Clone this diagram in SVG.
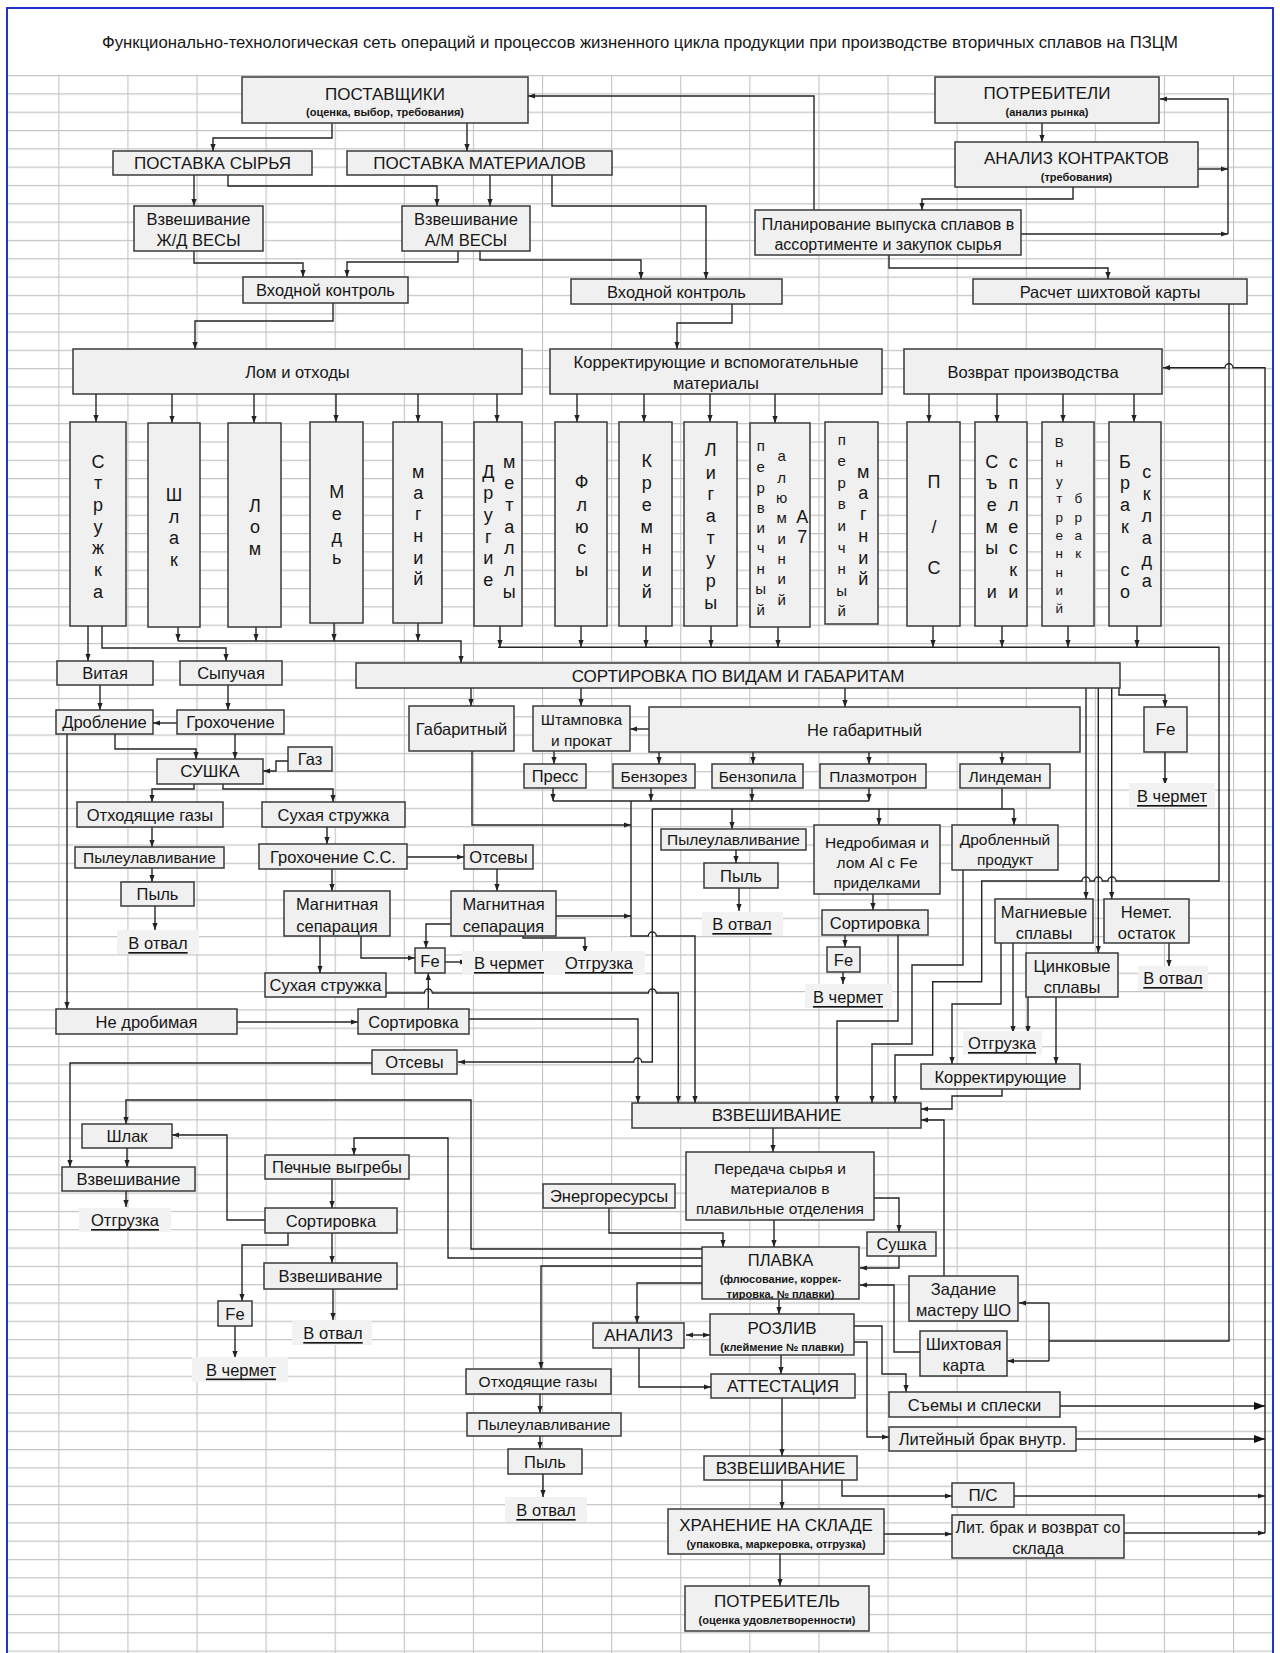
<svg xmlns="http://www.w3.org/2000/svg" width="1280" height="1653" viewBox="0 0 1280 1653">
<defs>
<style>
.b{fill:#f0f0f0;stroke:#3a3a3a;stroke-width:1.5}
.t{font-family:"Liberation Sans",Arial,sans-serif;font-size:16.5px;fill:#161616;text-anchor:middle;dominant-baseline:central}
.L{font-size:17px}
.m{font-size:15.5px}
.s{font-size:11px;font-weight:bold}
.v{font-size:18px}
.v2{font-size:15px}
.v3{font-size:13.5px}
.u{text-decoration:underline}
.bg{fill:#f2f2f2}
.c{fill:none;stroke:#252525;stroke-width:1.4}
.a{marker-end:url(#ar)}
.A{marker-end:url(#big)}
</style>
<marker id="ar" markerUnits="userSpaceOnUse" markerWidth="7" markerHeight="6" refX="7" refY="3" orient="auto" viewBox="0 0 7 6"><path d="M0,0.4 L7,3 L0,5.6z" fill="#222"/></marker>
<marker id="ars" markerUnits="userSpaceOnUse" markerWidth="7" markerHeight="6" refX="7" refY="3" orient="auto-start-reverse" viewBox="0 0 7 6"><path d="M0,0.4 L7,3 L0,5.6z" fill="#222"/></marker>
<marker id="big" markerUnits="userSpaceOnUse" markerWidth="11" markerHeight="9" refX="11" refY="4.5" orient="auto" viewBox="0 0 11 9"><path d="M0,0.5 L11,4.5 L0,8.5z" fill="#111"/></marker>
<pattern id="grid" patternUnits="userSpaceOnUse" x="58.3" y="75" width="69.1" height="18.32">
<path d="M0,0.5H69.1M0.5,0V18.32" fill="none" stroke="#c4c4c4" stroke-width="1.2"/>
</pattern>
</defs>
<rect x="0" y="0" width="1280" height="1653" fill="#ffffff"/>
<rect x="7" y="75" width="1266" height="1578" fill="url(#grid)"/>
<path d="M7,1653V8H1273V1653" fill="none" stroke="#2233cc" stroke-width="2"/>
<text class="t" x="640" y="42" style="font-size:16px" textLength="1076" lengthAdjust="spacingAndGlyphs">Функционально-технологическая сеть операций и процессов жизненного цикла продукции при производстве вторичных сплавов на ПЗЦМ</text>

<g id="connectors">
<path class="c a" d="M332,123V138H213V151"/>
<path class="c a" d="M467,123V151"/>
<path class="c a" d="M194,175V206"/>
<path class="c a" d="M228,175V186H437V206"/>
<path class="c a" d="M490,175V206"/>
<path class="c a" d="M552,175V206H706V279"/>
<path class="c a" d="M194,251V263H303V277"/>
<path class="c a" d="M458,251V262H347V277"/>
<path class="c a" d="M480,251V260H641V279"/>
<path class="c a" d="M333,303V321H195V349"/>
<path class="c a" d="M732,304V323H677V349"/>
<path class="c a" d="M1042,123V142"/>
<path class="c a" d="M1073,187V199H922V210"/>
<path class="c a" d="M1198,169H1228"/>
<path class="c a" d="M1021,234H1228"/>
<path class="c a" d="M1228,234V99H1160"/>
<path class="c a" d="M814,210V96H528"/>
<path class="c a" d="M889,255V268H1108V279"/>
<path class="c" d="M1229,304V1341H1049M1049,1303V1361"/>
<path class="c a" d="M1049,1303H1019"/>
<path class="c a" d="M1049,1361H1007"/>
<path class="c a" d="M1265,1533V367.7H1233a4,4 0 0 0 -8,0H1163"/>
<path class="c a" d="M96,394V422"/>
<path class="c a" d="M172,394V423"/>
<path class="c a" d="M254,394V423"/>
<path class="c a" d="M336,394V422"/>
<path class="c a" d="M418,394V422"/>
<path class="c a" d="M497,394V422"/>
<path class="c a" d="M577,394V422"/>
<path class="c a" d="M644,394V422"/>
<path class="c a" d="M710,394V422"/>
<path class="c a" d="M775,394V423"/>
<path class="c a" d="M929,394V422"/>
<path class="c a" d="M997,394V422"/>
<path class="c a" d="M1063,394V422"/>
<path class="c a" d="M1134,394V422"/>
<path class="c a" d="M88,626V661"/>
<path class="c a" d="M102,626V648H226V661"/>
<path class="c a" d="M178,627V641"/>
<path class="c a" d="M256,627V641"/>
<path class="c a" d="M334,623V641"/>
<path class="c a" d="M418,623V641"/>
<path class="c a" d="M178,641H461V663"/>
<path class="c a" d="M500,626V647"/>
<path class="c a" d="M581,626V647"/>
<path class="c a" d="M646,626V647"/>
<path class="c a" d="M711,626V647"/>
<path class="c a" d="M778,627V647"/>
<path class="c a" d="M933,626V647"/>
<path class="c a" d="M1002,626V647"/>
<path class="c a" d="M1068,626V647"/>
<path class="c a" d="M1137,626V647"/>
<path class="c a" d="M498,647.3H1219V881H1116a4,4 0 0 0 -8,0H1102.3a4,4 0 0 0 -8,0H1090a4,4 0 0 0 -8,0H981.7V981.7H932.7V1055H895V1103"/>
<path class="c a" d="M471,688V706"/>
<path class="c a" d="M581,688V706"/>
<path class="c a" d="M845,688V707"/>
<path class="c a" d="M1119,688V695H1165V707"/>
<path class="c a" d="M1165,752V785"/>
<path class="c a" d="M1086,688V899"/>
<path class="c a" d="M1098.3,688V953"/>
<path class="c a" d="M1111.7,688V899"/>
<path class="c a" d="M100,685V710"/>
<path class="c a" d="M228,685V710"/>
<path class="c a" d="M177,723H153"/>
<path class="c a" d="M115,734V749H196V759"/>
<path class="c a" d="M235,734V759"/>
<path class="c a" d="M288,761H276V771H263"/>
<path class="c a" d="M67,734V1009"/>
<path class="c a" d="M194,784V789H152V802"/>
<path class="c a" d="M223,784V789H333V802"/>
<path class="c a" d="M152,827V847"/>
<path class="c a" d="M152,868V882"/>
<path class="c a" d="M155,906V930"/>
<path class="c a" d="M327,827V844"/>
<path class="c a" d="M407,857H464"/>
<path class="c a" d="M332,869V891"/>
<path class="c a" d="M320,936V973"/>
<path class="c a" d="M361,936V958H415"/>
<path class="c a" d="M497,869V891"/>
<path class="c a" d="M451,924H426V948"/>
<path class="c a" d="M445,962H467"/>
<path class="c a" d="M523,936V938H585V953"/>
<path class="c a" d="M556,916H631"/>
<path class="c a" d="M472,751V825H631"/>
<path class="c a" d="M554,751V764"/>
<path class="c a" d="M649,729H630"/>
<path class="c a" d="M659,752V764"/>
<path class="c a" d="M753,752V764"/>
<path class="c a" d="M869,752V764"/>
<path class="c a" d="M1002,752V764"/>
<path class="c a" d="M553,788V801"/>
<path class="c a" d="M651,788V801"/>
<path class="c a" d="M752,788V801"/>
<path class="c a" d="M869,788V801"/>
<path class="c" d="M553,801H869"/>
<path class="c a" d="M631,801V936H648.3a4,4 0 0 1 8,0H695V1103"/>
<path class="c" d="M1002,788V809M652.3,809H1014"/>
<path class="c a" d="M732,809V829"/>
<path class="c a" d="M879,809V825"/>
<path class="c a" d="M1014,809V825"/>
<path class="c a" d="M652.3,809V1062H641.7a4,4 0 0 0 -8,0H458"/>
<path class="c a" d="M736,850V863"/>
<path class="c a" d="M739,888V911"/>
<path class="c a" d="M873,894V910"/>
<path class="c a" d="M845,935V947"/>
<path class="c a" d="M843,972V984"/>
<path class="c a" d="M898,935V1021H837V1103"/>
<path class="c a" d="M963,870V965H912V1044H872V1103"/>
<path class="c a" d="M1001,943V1004H952V1064"/>
<path class="c a" d="M1013,943V1033"/>
<path class="c a" d="M1028,997V1033"/>
<path class="c a" d="M1056,997V1064"/>
<path class="c a" d="M1169,943V967"/>
<path class="c a" d="M1002,1089V1096H952V1109H921"/>
<path class="c a" d="M944,1276V1120H921"/>
<path class="c a" d="M386,993H424.3a4,4 0 0 1 8,0H648.3a4,4 0 0 1 8,0H678.3V1103"/>
<path class="c a" d="M428.3,1009V973"/>
<path class="c a" d="M237,1022H358"/>
<path class="c a" d="M469,1019H638V1103"/>
<path class="c a" d="M372,1063H70V1167"/>
<path class="c a" d="M773,1128V1152"/>
<path class="c a" d="M874,1198H899V1232"/>
<path class="c a" d="M899,1256V1268H860"/>
<path class="c a" d="M774,1220V1247"/>
<path class="c a" d="M609,1208V1233H723V1247"/>
<path class="c a" d="M702,1249H471V1100H126V1124"/>
<path class="c a" d="M702,1258H448V1138H354V1155"/>
<path class="c a" d="M127,1148V1167"/>
<path class="c a" d="M126,1191V1207"/>
<path class="c a" d="M332,1179V1208"/>
<path class="c a" d="M265,1220H227V1135H172"/>
<path class="c a" d="M288,1233V1245H242V1301"/>
<path class="c a" d="M332,1233V1263"/>
<path class="c a" d="M333,1289V1320"/>
<path class="c a" d="M235,1326V1358"/>
<path class="c a" d="M920,1352H894V1285H860"/>
<path class="c a" d="M702,1266H541V1369"/>
<path class="c a" d="M702,1283H637V1323"/>
<path class="c a" d="M779,1299V1314"/>
<path class="c a" d="M686,1335H710" style="marker-start:url(#ars)"/>
<path class="c a" d="M639,1348V1387H711"/>
<path class="c a" d="M781,1355V1374"/>
<path class="c a" d="M854,1326H882V1374H906V1392"/>
<path class="c a" d="M854,1342H867V1437H889"/>
<path class="c A" d="M1060,1406H1265"/>
<path class="c A" d="M1076,1439H1265"/>
<path class="c a" d="M782,1398V1456"/>
<path class="c a" d="M842,1480V1496H952"/>
<path class="c a" d="M1014,1496H1265"/>
<path class="c a" d="M782,1480V1509"/>
<path class="c a" d="M884,1534H952"/>
<path class="c a" d="M1124,1533H1265"/>
<path class="c a" d="M780,1554V1586"/>
<path class="c a" d="M540,1394V1413"/>
<path class="c a" d="M540,1436V1449"/>
<path class="c a" d="M543,1474V1497"/>
</g>

<g id="n-postavshiki"><rect class="b" x="242" y="77" width="286" height="46"/><text class="t L" x="385" y="94">ПОСТАВЩИКИ</text><text class="t s" x="385" y="112">(оценка, выбор, требования)</text></g>
<g id="n-potrebiteli"><rect class="b" x="935" y="77" width="224" height="46"/><text class="t L" x="1047" y="93">ПОТРЕБИТЕЛИ</text><text class="t s" x="1047" y="112">(анализ рынка)</text></g>
<g id="n-analiz-kontr"><rect class="b" x="955" y="142" width="243" height="45"/><text class="t L" x="1076.5" y="158">АНАЛИЗ КОНТРАКТОВ</text><text class="t s" x="1076.5" y="177">(требования)</text></g>
<g id="n-postavka-syrya"><rect class="b" x="113" y="151" width="199" height="24"/><text class="t L" x="212.5" y="163">ПОСТАВКА СЫРЬЯ</text></g>
<g id="n-postavka-mat"><rect class="b" x="347" y="151" width="265" height="24"/><text class="t L" x="479.5" y="163">ПОСТАВКА МАТЕРИАЛОВ</text></g>
<g id="n-plan"><rect class="b" x="755" y="210" width="266" height="45"/><text class="t" style="font-size:16px" x="888" y="224">Планирование выпуска сплавов в</text><text class="t" style="font-size:16px" x="888" y="244">ассортименте и закупок сырья</text></g>
<g id="n-vzv-zd"><rect class="b" x="134" y="206" width="129" height="45"/><text class="t" x="198.5" y="219">Взвешивание</text><text class="t" x="198.5" y="239.5">Ж/Д ВЕСЫ</text></g>
<g id="n-vzv-am"><rect class="b" x="402" y="206" width="128" height="45"/><text class="t" x="466" y="219">Взвешивание</text><text class="t" x="466" y="239.5">А/М ВЕСЫ</text></g>
<g id="n-vk1"><rect class="b" x="243" y="277" width="165" height="26"/><text class="t" x="325.5" y="290">Входной контроль</text></g>
<g id="n-vk2"><rect class="b" x="571" y="279" width="211" height="25"/><text class="t" x="676.5" y="292">Входной контроль</text></g>
<g id="n-raschet"><rect class="b" x="973" y="279" width="274" height="25"/><text class="t" x="1110" y="291.5">Расчет шихтовой карты</text></g>
<g id="n-lom-otkh"><rect class="b" x="73" y="349" width="449" height="45"/><text class="t" x="297.5" y="371.5">Лом и отходы</text></g>
<g id="n-korr-vsp"><rect class="b" x="550" y="349" width="332" height="45"/><text class="t" x="716" y="362">Корректирующие и вспомогательные</text><text class="t" x="716" y="383">материалы</text></g>
<g id="n-vozvrat"><rect class="b" x="904" y="349" width="258" height="45"/><text class="t" x="1033" y="371.5">Возврат производства</text></g>

<g id="n-struzhka"><rect class="b" x="70" y="422" width="56" height="204"/><text class="t v"><tspan x="98" y="461.7">С</tspan><tspan x="98" y="483.3">т</tspan><tspan x="98" y="505">р</tspan><tspan x="98" y="526.7">у</tspan><tspan x="98" y="548.3">ж</tspan><tspan x="98" y="570">к</tspan><tspan x="98" y="591.7">а</tspan></text></g>
<g id="n-shlak"><rect class="b" x="148" y="423" width="52" height="204"/><text class="t v"><tspan x="174" y="495">Ш</tspan><tspan x="174" y="516.7">л</tspan><tspan x="174" y="538.3">а</tspan><tspan x="174" y="560">к</tspan></text></g>
<g id="n-lom"><rect class="b" x="228" y="423" width="53" height="204"/><text class="t v"><tspan x="255" y="505.7">Л</tspan><tspan x="255" y="527.3">о</tspan><tspan x="255" y="549.3">м</tspan></text></g>
<g id="n-med"><rect class="b" x="310" y="422" width="53" height="201"/><text class="t v"><tspan x="336.7" y="491.7">М</tspan><tspan x="336.7" y="514.3">е</tspan><tspan x="336.7" y="536.7">д</tspan><tspan x="336.7" y="558.3">ь</tspan></text></g>
<g id="n-magniy"><rect class="b" x="393" y="422" width="49" height="201"/><text class="t v"><tspan x="418.3" y="471.7">м</tspan><tspan x="418.3" y="492.7">а</tspan><tspan x="418.3" y="514.3">г</tspan><tspan x="418.3" y="536">н</tspan><tspan x="418.3" y="557.7">и</tspan><tspan x="418.3" y="579">й</tspan></text></g>
<g id="n-drugie"><rect class="b" x="474" y="422" width="48" height="204"/><text class="t v"><tspan x="488.3" y="471.7">Д</tspan><tspan x="488.3" y="493.3">р</tspan><tspan x="488.3" y="515">у</tspan><tspan x="488.3" y="536.7">г</tspan><tspan x="488.3" y="558.3">и</tspan><tspan x="488.3" y="580">е</tspan><tspan x="509.3" y="461.7">м</tspan><tspan x="509.3" y="483.3">е</tspan><tspan x="509.3" y="505">т</tspan><tspan x="509.3" y="526.7">а</tspan><tspan x="509.3" y="548.3">л</tspan><tspan x="509.3" y="570">л</tspan><tspan x="509.3" y="591.7">ы</tspan></text></g>
<g id="n-flyusy"><rect class="b" x="555" y="422" width="52" height="204"/><text class="t v"><tspan x="581.7" y="481.7">Ф</tspan><tspan x="581.7" y="505">л</tspan><tspan x="581.7" y="526.7">ю</tspan><tspan x="581.7" y="548.3">с</tspan><tspan x="581.7" y="570">ы</tspan></text></g>
<g id="n-kremniy"><rect class="b" x="619" y="422" width="53" height="204"/><text class="t v"><tspan x="646.7" y="461">К</tspan><tspan x="646.7" y="482.7">р</tspan><tspan x="646.7" y="505">е</tspan><tspan x="646.7" y="526.7">м</tspan><tspan x="646.7" y="548.3">н</tspan><tspan x="646.7" y="570">и</tspan><tspan x="646.7" y="591.7">й</tspan></text></g>
<g id="n-ligatury"><rect class="b" x="684" y="422" width="53" height="204"/><text class="t v"><tspan x="710.7" y="450">Л</tspan><tspan x="710.7" y="472.7">и</tspan><tspan x="710.7" y="494.3">г</tspan><tspan x="710.7" y="516">а</tspan><tspan x="710.7" y="537.7">т</tspan><tspan x="710.7" y="559.3">у</tspan><tspan x="710.7" y="581">р</tspan><tspan x="710.7" y="602.7">ы</tspan></text></g>
<g id="n-perv-al"><rect class="b" x="750" y="423" width="60" height="204"/><text class="t v2"><tspan x="760.7" y="445">п</tspan><tspan x="760.7" y="466">е</tspan><tspan x="760.7" y="486.7">р</tspan><tspan x="760.7" y="506.7">в</tspan><tspan x="760.7" y="527.3">и</tspan><tspan x="760.7" y="547.3">ч</tspan><tspan x="760.7" y="568.3">н</tspan><tspan x="760.7" y="588.3">ы</tspan><tspan x="760.7" y="609">й</tspan><tspan x="781.7" y="455">а</tspan><tspan x="781.7" y="476.7">л</tspan><tspan x="781.7" y="496.7">ю</tspan><tspan x="781.7" y="517.3">м</tspan><tspan x="781.7" y="537.7">и</tspan><tspan x="781.7" y="558.3">н</tspan><tspan x="781.7" y="578.3">и</tspan><tspan x="781.7" y="599">й</tspan></text><text class="t v"><tspan x="802.3" y="516.7">А</tspan><tspan x="802.3" y="536.7">7</tspan></text></g>
<g id="n-perv-mg"><rect class="b" x="825" y="422" width="53" height="202"/><text class="t v2"><tspan x="841.7" y="439.3">п</tspan><tspan x="841.7" y="460">е</tspan><tspan x="841.7" y="481.7">р</tspan><tspan x="841.7" y="503.3">в</tspan><tspan x="841.7" y="525">и</tspan><tspan x="841.7" y="546.7">ч</tspan><tspan x="841.7" y="568.3">н</tspan><tspan x="841.7" y="590">ы</tspan><tspan x="841.7" y="610">й</tspan></text><text class="t v"><tspan x="863.3" y="471.7">м</tspan><tspan x="863.3" y="492.7">а</tspan><tspan x="863.3" y="514.3">г</tspan><tspan x="863.3" y="536">н</tspan><tspan x="863.3" y="557.7">и</tspan><tspan x="863.3" y="579">й</tspan></text></g>
<g id="n-ps-col"><rect class="b" x="907" y="422" width="53" height="204"/><text class="t v"><tspan x="934" y="481.7">П</tspan><tspan x="934" y="526.7">/</tspan><tspan x="934" y="568.3">С</tspan></text></g>
<g id="n-siemy-col"><rect class="b" x="975" y="422" width="52" height="204"/><text class="t v"><tspan x="991.7" y="461.7">С</tspan><tspan x="991.7" y="483.3">ъ</tspan><tspan x="991.7" y="505">е</tspan><tspan x="991.7" y="526.7">м</tspan><tspan x="991.7" y="548.3">ы</tspan><tspan x="991.7" y="591.7">и</tspan><tspan x="1013.3" y="461.7">с</tspan><tspan x="1013.3" y="483.3">п</tspan><tspan x="1013.3" y="505">л</tspan><tspan x="1013.3" y="526.7">е</tspan><tspan x="1013.3" y="548.3">с</tspan><tspan x="1013.3" y="570">к</tspan><tspan x="1013.3" y="591.7">и</tspan></text></g>
<g id="n-vnutr-col"><rect class="b" x="1042" y="422" width="52" height="204"/><text class="t v3"><tspan x="1059.3" y="442.3">В</tspan><tspan x="1059.3" y="461.7">н</tspan><tspan x="1059.3" y="480.7">у</tspan><tspan x="1059.3" y="498.3">т</tspan><tspan x="1059.3" y="516.7">р</tspan><tspan x="1059.3" y="535">е</tspan><tspan x="1059.3" y="553.3">н</tspan><tspan x="1059.3" y="571.7">н</tspan><tspan x="1059.3" y="590">и</tspan><tspan x="1059.3" y="608.3">й</tspan><tspan x="1078.3" y="497.7">б</tspan><tspan x="1078.3" y="516.7">р</tspan><tspan x="1078.3" y="535">а</tspan><tspan x="1078.3" y="553.3">к</tspan></text></g>
<g id="n-brak-col"><rect class="b" x="1109" y="422" width="52" height="204"/><text class="t v"><tspan x="1125" y="461.7">Б</tspan><tspan x="1125" y="483.3">р</tspan><tspan x="1125" y="505">а</tspan><tspan x="1125" y="526.7">к</tspan><tspan x="1125" y="570">с</tspan><tspan x="1125" y="591.7">о</tspan><tspan x="1146.7" y="472.3">с</tspan><tspan x="1146.7" y="494">к</tspan><tspan x="1146.7" y="516">л</tspan><tspan x="1146.7" y="537.7">а</tspan><tspan x="1146.7" y="560">д</tspan><tspan x="1146.7" y="580.7">а</tspan></text></g>

<g id="n-vitaya"><rect class="b" x="57" y="661" width="96" height="24"/><text class="t" x="105" y="673">Витая</text></g>
<g id="n-sypuchaya"><rect class="b" x="180" y="661" width="102" height="24"/><text class="t" x="231" y="673">Сыпучая</text></g>
<g id="n-sortirovka-main"><rect class="b" x="356" y="663" width="764" height="25"/><text class="t L" x="738" y="676">СОРТИРОВКА ПО ВИДАМ И ГАБАРИТАМ</text></g>
<g id="n-droblenie"><rect class="b" x="56" y="710" width="97" height="24"/><text class="t" x="104.5" y="722">Дробление</text></g>
<g id="n-grokh"><rect class="b" x="177" y="710" width="107" height="24"/><text class="t" x="230.5" y="722">Грохочение</text></g>
<g id="n-gabar"><rect class="b" x="409" y="706" width="105" height="45"/><text class="t" x="461.5" y="728.5">Габаритный</text></g>
<g id="n-shtamp"><rect class="b" x="533" y="706" width="97" height="45"/><text class="t m" x="581.5" y="719">Штамповка</text><text class="t m" x="581.5" y="740">и прокат</text></g>
<g id="n-negabar"><rect class="b" x="649" y="707" width="431" height="45"/><text class="t" x="864.5" y="729.5">Не габаритный</text></g>
<g id="n-fe1"><rect class="b" x="1144" y="707" width="43" height="45"/><text class="t L" x="1165.5" y="729.5">Fe</text></g>
<g id="n-vchermet1"><rect class="bg" x="1129" y="783" width="86" height="24"/><text class="t u" x="1172" y="796">В чермет</text></g>
<g id="n-gaz"><rect class="b" x="288" y="747" width="44" height="24"/><text class="t" x="310" y="759">Газ</text></g>
<g id="n-sushka"><rect class="b" x="157" y="759" width="106" height="25"/><text class="t L" x="210" y="771.5">СУШКА</text></g>
<g id="n-press"><rect class="b" x="524" y="764" width="62" height="24"/><text class="t" x="555" y="776">Пресс</text></g>
<g id="n-benzorez"><rect class="b" x="613" y="764" width="82" height="24"/><text class="t m" x="654" y="776">Бензорез</text></g>
<g id="n-benzopila"><rect class="b" x="712" y="764" width="91" height="24"/><text class="t m" x="757.5" y="776">Бензопила</text></g>
<g id="n-plazmotron"><rect class="b" x="820" y="764" width="106" height="24"/><text class="t m" x="873" y="776">Плазмотрон</text></g>
<g id="n-lindeman"><rect class="b" x="960" y="764" width="90" height="24"/><text class="t m" x="1005" y="776">Линдеман</text></g>
<g id="n-otkh1"><rect class="b" x="77" y="802" width="146" height="25"/><text class="t" x="150" y="814.5">Отходящие газы</text></g>
<g id="n-sukh1"><rect class="b" x="262" y="802" width="143" height="25"/><text class="t" x="333.5" y="814.5">Сухая стружка</text></g>
<g id="n-pyleul-mid"><rect class="b" x="661" y="829" width="145" height="21"/><text class="t m" x="733.5" y="839.5">Пылеулавливание</text></g>
<g id="n-nedrob"><rect class="b" x="814" y="825" width="126" height="69"/><text class="t m" x="877" y="842">Недробимая и</text><text class="t m" x="877" y="862">лом Al с Fe</text><text class="t m" x="877" y="882.5">приделками</text></g>
<g id="n-drobl-prod"><rect class="b" x="952" y="825" width="106" height="45"/><text class="t m" x="1005" y="839">Дробленный</text><text class="t m" x="1005" y="859.5">продукт</text></g>
<g id="n-pyleul1"><rect class="b" x="75" y="847" width="149" height="21"/><text class="t m" x="149.5" y="857.5">Пылеулавливание</text></g>
<g id="n-grokh-ss"><rect class="b" x="259" y="844" width="148" height="25"/><text class="t" x="333" y="856.5">Грохочение С.С.</text></g>
<g id="n-otsevy1"><rect class="b" x="464" y="845" width="69" height="24"/><text class="t" x="498.5" y="857">Отсевы</text></g>
<g id="n-pyl-mid"><rect class="b" x="704" y="863" width="74" height="25"/><text class="t" x="741" y="875.5">Пыль</text></g>
<g id="n-pyl1"><rect class="b" x="121" y="882" width="73" height="24"/><text class="t" x="157.5" y="894">Пыль</text></g>
<g id="n-magn1"><rect class="b" x="284" y="891" width="106" height="45"/><text class="t" x="337" y="903.5">Магнитная</text><text class="t" x="337" y="926">сепарация</text></g>
<g id="n-magn2"><rect class="b" x="451" y="891" width="105" height="45"/><text class="t" x="503.5" y="903.5">Магнитная</text><text class="t" x="503.5" y="926">сепарация</text></g>
<g id="n-magnievye"><rect class="b" x="995" y="899" width="98" height="44"/><text class="t" x="1044" y="912">Магниевые</text><text class="t" x="1044" y="933">сплавы</text></g>
<g id="n-nemet"><rect class="b" x="1104" y="899" width="85" height="44"/><text class="t" x="1146.5" y="912">Немет.</text><text class="t" x="1146.5" y="933">остаток</text></g>
<g id="n-sort-right"><rect class="b" x="822" y="910" width="106" height="25"/><text class="t" x="875" y="922.5">Сортировка</text></g>
<g id="n-votval-mid"><rect class="bg" x="702" y="912" width="81" height="24"/><text class="t u" x="742" y="924">В отвал</text></g>
<g id="n-votval1"><rect class="bg" x="117" y="930" width="82" height="24"/><text class="t u" x="158" y="943">В отвал</text></g>
<g id="n-fe-mid"><rect class="b" x="415" y="948" width="30" height="25"/><text class="t" x="430" y="960.5">Fe</text></g>
<g id="n-vchermet-mid"><rect class="bg" x="462" y="951" width="183" height="24"/><text class="t u" x="509" y="963">В чермет</text></g>
<g id="n-otgruzka-mid"><text class="t u" x="599" y="963">Отгрузка</text></g>
<g id="n-fe-right"><rect class="b" x="827" y="947" width="33" height="25"/><text class="t" x="843.5" y="959.5">Fe</text></g>
<g id="n-tsink"><rect class="b" x="1026" y="953" width="92" height="44"/><text class="t" x="1072" y="965.5">Цинковые</text><text class="t" x="1072" y="986.5">сплавы</text></g>
<g id="n-votval-right"><rect class="bg" x="1138" y="966" width="70" height="25"/><text class="t u" x="1173" y="978">В отвал</text></g>
<g id="n-sukh2"><rect class="b" x="265" y="973" width="121" height="24"/><text class="t" x="325.5" y="985">Сухая стружка</text></g>
<g id="n-vchermet-right"><rect class="bg" x="805" y="984" width="87" height="24"/><text class="t u" x="848" y="997">В чермет</text></g>
<g id="n-nedrob2"><rect class="b" x="56" y="1009" width="181" height="25"/><text class="t" x="146.5" y="1021.5">Не дробимая</text></g>
<g id="n-sort-mid"><rect class="b" x="358" y="1009" width="111" height="25"/><text class="t" x="413.5" y="1021.5">Сортировка</text></g>
<g id="n-otgruzka-right"><rect class="bg" x="963" y="1031" width="79" height="24"/><text class="t u" x="1002" y="1043">Отгрузка</text></g>
<g id="n-otsevy2"><rect class="b" x="372" y="1050" width="85" height="24"/><text class="t" x="414.5" y="1062">Отсевы</text></g>
<g id="n-korrekt"><rect class="b" x="921" y="1064" width="159" height="25"/><text class="t" x="1000.5" y="1076.5">Корректирующие</text></g>
<g id="n-vzvesh-main"><rect class="b" x="632" y="1103" width="289" height="25"/><text class="t L" x="776.5" y="1115.5">ВЗВЕШИВАНИЕ</text></g>
<g id="n-shlak-box"><rect class="b" x="82" y="1124" width="90" height="24"/><text class="t" x="127" y="1136">Шлак</text></g>
<g id="n-pechnye"><rect class="b" x="265" y="1155" width="144" height="24"/><text class="t" x="337" y="1167">Печные выгребы</text></g>
<g id="n-peredacha"><rect class="b" x="686" y="1152" width="188" height="68"/><text class="t m" x="780" y="1168">Передача сырья и</text><text class="t m" x="780" y="1188.5">материалов в</text><text class="t m" x="780" y="1208.5">плавильные отделения</text></g>
<g id="n-vzv-left"><rect class="b" x="62" y="1167" width="133" height="24"/><text class="t" x="128.5" y="1179">Взвешивание</text></g>
<g id="n-energo"><rect class="b" x="543" y="1184" width="132" height="24"/><text class="t" x="609" y="1196">Энергоресурсы</text></g>
<g id="n-sort-low"><rect class="b" x="265" y="1208" width="132" height="25"/><text class="t" x="331" y="1220.5">Сортировка</text></g>
<g id="n-otgruzka-left"><rect class="bg" x="79" y="1208" width="92" height="24"/><text class="t u" x="125" y="1220">Отгрузка</text></g>
<g id="n-sushka2"><rect class="b" x="867" y="1232" width="69" height="24"/><text class="t" x="901.5" y="1244">Сушка</text></g>
<g id="n-plavka"><rect class="b" x="702" y="1247" width="157" height="52"/><text class="t" x="780.5" y="1260">ПЛАВКА</text><text class="t s" x="780.5" y="1278.5">(флюсование, коррек-</text><text class="t s" x="780.5" y="1293.5">тировка, № плавки)</text></g>
<g id="n-vzv-low"><rect class="b" x="264" y="1263" width="133" height="26"/><text class="t" x="330.5" y="1276">Взвешивание</text></g>
<g id="n-zadanie"><rect class="b" x="909" y="1276" width="109" height="45"/><text class="t" x="963.5" y="1288.5">Задание</text><text class="t" x="963.5" y="1310">мастеру ШО</text></g>
<g id="n-fe-low"><rect class="b" x="218" y="1301" width="34" height="25"/><text class="t" x="235" y="1313.5">Fe</text></g>
<g id="n-rozliv"><rect class="b" x="710" y="1314" width="144" height="41"/><text class="t L" x="782" y="1328.5">РОЗЛИВ</text><text class="t s" x="782" y="1347">(клеймение № плавки)</text></g>
<g id="n-analiz"><rect class="b" x="593" y="1323" width="91" height="25"/><text class="t L" x="638.5" y="1335.5">АНАЛИЗ</text></g>
<g id="n-votval-low"><rect class="bg" x="292" y="1320" width="80" height="25"/><text class="t u" x="333" y="1333">В отвал</text></g>
<g id="n-shikht"><rect class="b" x="920" y="1331" width="87" height="45"/><text class="t" x="963.5" y="1343.5">Шихтовая</text><text class="t" x="963.5" y="1365">карта</text></g>
<g id="n-vchermet-low"><rect class="bg" x="192" y="1357" width="96" height="25"/><text class="t u" x="241" y="1369.5">В чермет</text></g>
<g id="n-otkh2"><rect class="b" x="466" y="1369" width="145" height="25"/><text class="t m" x="538" y="1381.5">Отходящие газы</text></g>
<g id="n-attest"><rect class="b" x="711" y="1374" width="144" height="24"/><text class="t L" x="783" y="1386">АТТЕСТАЦИЯ</text></g>
<g id="n-siemy"><rect class="b" x="889" y="1392" width="171" height="25"/><text class="t" x="974.5" y="1404.5">Съемы и сплески</text></g>
<g id="n-pyleul2"><rect class="b" x="467" y="1413" width="154" height="23"/><text class="t m" x="544" y="1424.5">Пылеулавливание</text></g>
<g id="n-litbrak"><rect class="b" x="889" y="1427" width="187" height="24"/><text class="t" x="982.5" y="1439">Литейный брак внутр.</text></g>
<g id="n-pyl2"><rect class="b" x="508" y="1449" width="74" height="25"/><text class="t" x="545" y="1461.5">Пыль</text></g>
<g id="n-vzv-low2"><rect class="b" x="704" y="1456" width="153" height="24"/><text class="t L" x="780.5" y="1468">ВЗВЕШИВАНИЕ</text></g>
<g id="n-ps-box"><rect class="b" x="952" y="1483" width="62" height="24"/><text class="t L" x="983" y="1495">П/С</text></g>
<g id="n-votval-low2"><rect class="bg" x="505" y="1497" width="82" height="25"/><text class="t u" x="546" y="1510">В отвал</text></g>
<g id="n-khranenie"><rect class="b" x="668" y="1509" width="216" height="45"/><text class="t L" x="776" y="1525">ХРАНЕНИЕ НА СКЛАДЕ</text><text class="t s" x="776" y="1543.5">(упаковка, маркеровка, отгрузка)</text></g>
<g id="n-litbrak-sklad"><rect class="b" x="952" y="1515" width="172" height="43"/><text class="t" style="font-size:16px" x="1038" y="1527.5">Лит. брак и возврат со</text><text class="t" style="font-size:16px" x="1038" y="1548">склада</text></g>
<g id="n-potrebitel"><rect class="b" x="685" y="1586" width="184" height="45"/><text class="t L" x="777" y="1601">ПОТРЕБИТЕЛЬ</text><text class="t s" x="777" y="1620">(оценка удовлетворенности)</text></g>
</svg>
